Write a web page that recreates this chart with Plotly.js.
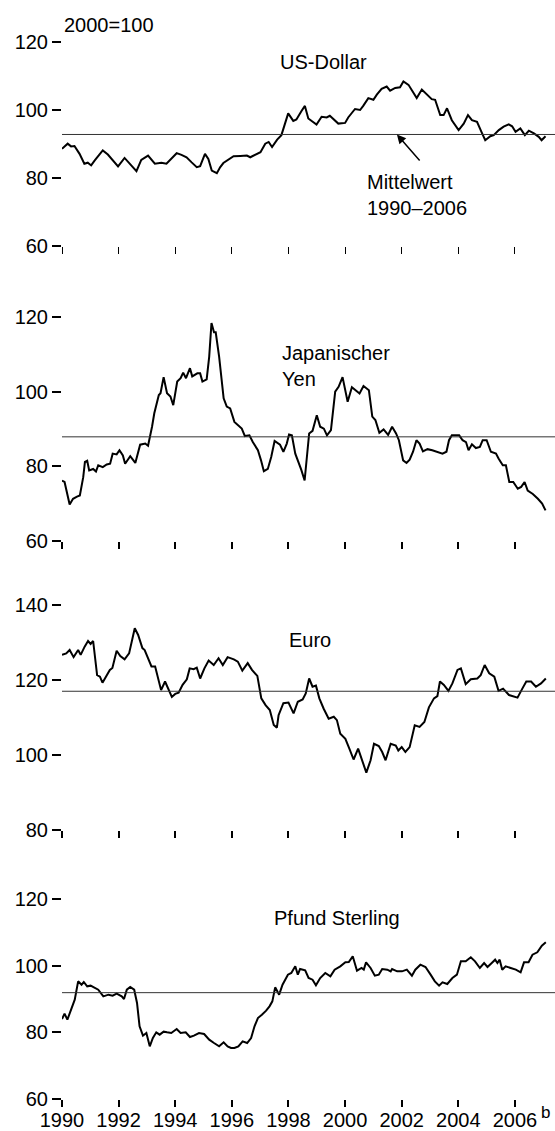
<!DOCTYPE html>
<html>
<head>
<meta charset="utf-8">
<script src="https://cdn.plot.ly/plotly-3.0.1.min.js"></script>
<style>html,body{margin:0;padding:0;background:#fff;}#chart{width:555px;height:1131px;}</style>
</head>
<body>
<div id="chart"></div>
<script>
// ---- Data (index 2000=100) ----
const seriesNames = ["US-Dollar", "Japanischer<br>Yen", "Euro", "Pfund Sterling"];
const meanValues = [92.8, 87.9, 117.0, 91.9]; // Mittelwert 1990–2006

const usdYear = [1990.00,1990.20,1990.32,1990.44,1990.62,1990.79,1990.91,1991.03,1991.15,1991.27,1991.44,1991.62,1991.80,1991.98,1992.21,1992.39,1992.63,1992.80,1993.04,1993.28,1993.51,1993.69,1993.87,1994.05,1994.22,1994.40,1994.58,1994.76,1994.88,1995.05,1995.17,1995.29,1995.47,1995.59,1995.70,1995.88,1996.06,1996.30,1996.53,1996.65,1996.83,1997.01,1997.18,1997.30,1997.42,1997.60,1997.75,1997.99,1998.17,1998.28,1998.46,1998.58,1998.70,1998.99,1999.17,1999.35,1999.46,1999.58,1999.76,2000.00,2000.11,2000.35,2000.53,2000.64,2000.82,2001.00,2001.12,2001.29,2001.47,2001.59,2001.77,2001.94,2002.06,2002.24,2002.36,2002.53,2002.71,2002.89,2003.06,2003.18,2003.36,2003.48,2003.60,2003.77,2004.01,2004.19,2004.34,2004.48,2004.66,2004.84,2004.95,2005.13,2005.25,2005.43,2005.60,2005.78,2005.90,2006.02,2006.19,2006.35,2006.49,2006.67,2006.84,2006.94,2007.08];
const usdVal = [88.6,90.1,89.3,89.4,87.1,84.2,84.5,83.7,85.1,86.3,88.1,86.9,85.1,83.4,85.9,84.2,82.0,85.3,86.6,84.2,84.5,84.2,85.7,87.3,86.8,86.1,84.6,83.2,83.5,87.1,85.6,82.2,81.4,83.2,84.4,85.4,86.4,86.5,86.6,86.1,86.9,87.6,90.1,90.6,89.1,91.3,92.6,99.0,96.8,97.2,99.7,101.2,97.5,95.7,98.0,97.8,98.3,97.3,96.0,96.2,97.8,100.3,100.0,101.2,103.5,103.0,104.5,106.2,106.9,105.7,106.5,106.7,108.4,107.4,105.9,103.5,106.0,104.5,103.2,103.0,98.5,98.5,100.5,97.0,94.1,96.0,98.5,97.0,96.5,93.1,91.1,92.3,92.6,94.1,95.1,95.8,95.2,93.6,94.6,92.6,93.9,93.1,92.1,91.1,92.3];

const yenYear = [1990.00,1990.09,1990.27,1990.39,1990.53,1990.63,1990.75,1990.81,1990.89,1990.96,1991.10,1991.20,1991.28,1991.44,1991.58,1991.70,1991.79,1991.93,1992.03,1992.15,1992.23,1992.41,1992.59,1992.76,1992.94,1993.04,1993.18,1993.26,1993.42,1993.48,1993.59,1993.71,1993.83,1993.93,1994.07,1994.19,1994.28,1994.38,1994.52,1994.60,1994.78,1994.88,1994.96,1995.11,1995.20,1995.28,1995.37,1995.43,1995.55,1995.71,1995.82,1995.94,1996.09,1996.23,1996.35,1996.46,1996.62,1996.74,1996.92,1997.03,1997.13,1997.27,1997.39,1997.51,1997.65,1997.70,1997.82,1997.94,1998.02,1998.12,1998.24,1998.35,1998.45,1998.57,1998.65,1998.73,1998.85,1999.00,1999.12,1999.25,1999.36,1999.50,1999.65,1999.77,1999.91,2000.01,2000.09,2000.24,2000.35,2000.51,2000.65,2000.84,2000.96,2001.07,2001.21,2001.36,2001.52,2001.66,2001.80,2001.90,2002.05,2002.17,2002.28,2002.40,2002.52,2002.63,2002.75,2002.91,2003.08,2003.26,2003.44,2003.58,2003.67,2003.77,2004.03,2004.15,2004.27,2004.36,2004.48,2004.62,2004.76,2004.86,2005.00,2005.15,2005.33,2005.42,2005.57,2005.68,2005.80,2005.94,2006.10,2006.22,2006.34,2006.45,2006.63,2006.81,2006.96,2007.08];
const yenVal = [76.2,75.8,69.8,71.3,71.9,72.2,77.1,81.2,81.5,78.9,79.3,78.6,80.3,79.8,80.5,80.7,83.4,83.2,84.3,82.9,80.7,82.7,80.9,85.8,86.1,85.5,90.6,94.2,99.1,99.6,103.9,99.6,98.7,96.4,102.7,103.6,105.1,103.6,106.3,104.1,104.9,104.9,102.7,103.3,109.4,118.4,115.9,115.9,109.4,98.2,96.0,95.5,91.9,91.0,90.1,88.1,88.3,86.5,84.3,81.6,78.7,79.3,82.5,86.8,86.1,85.8,83.9,86.1,88.5,88.3,83.4,81.2,79.1,76.2,81.6,88.8,89.5,93.7,90.6,90.1,88.3,89.7,100.0,101.3,103.9,100.5,97.3,101.2,100.6,99.5,101.5,100.4,93.3,92.4,89.0,89.9,88.4,90.6,88.8,87.0,81.6,80.9,81.8,83.9,87.0,86.1,84.0,84.6,84.3,83.9,83.4,83.9,87.0,88.3,88.3,87.0,86.5,84.3,85.9,84.9,85.2,87.0,87.0,83.9,83.4,82.1,80.3,80.3,75.8,75.8,74.0,74.5,75.8,73.5,72.6,71.3,70.0,68.2];

const eurYear = [1990.00,1990.15,1990.27,1990.41,1990.57,1990.66,1990.80,1990.92,1991.01,1991.10,1991.24,1991.34,1991.43,1991.55,1991.69,1991.78,1991.93,1992.06,1992.21,1992.37,1992.49,1992.57,1992.69,1992.84,1992.92,1993.04,1993.16,1993.29,1993.40,1993.50,1993.64,1993.74,1993.88,1994.00,1994.12,1994.26,1994.41,1994.51,1994.65,1994.76,1994.88,1995.03,1995.18,1995.36,1995.53,1995.68,1995.85,1996.07,1996.21,1996.37,1996.56,1996.71,1996.90,1997.04,1997.19,1997.34,1997.48,1997.59,1997.65,1997.82,1998.00,1998.18,1998.33,1998.50,1998.61,1998.73,1998.85,1998.97,1999.09,1999.24,1999.42,1999.60,1999.71,1999.83,2000.01,2000.15,2000.30,2000.46,2000.60,2000.75,2000.90,2001.02,2001.19,2001.31,2001.43,2001.61,2001.79,2001.88,2002.00,2002.13,2002.28,2002.46,2002.63,2002.80,2002.96,2003.14,2003.26,2003.35,2003.49,2003.65,2003.79,2003.97,2004.09,2004.26,2004.44,2004.67,2004.79,2004.93,2005.09,2005.27,2005.42,2005.58,2005.79,2005.93,2006.09,2006.26,2006.40,2006.57,2006.74,2006.92,2007.09];
const eurVal = [126.7,127.1,128.0,126.1,128.0,126.7,128.9,130.4,129.6,130.4,121.3,120.9,119.3,120.9,122.7,123.2,127.8,126.4,125.5,127.1,131.6,133.8,132.0,128.5,128.0,125.8,123.6,123.6,120.0,117.3,119.6,117.8,115.5,116.3,116.6,118.7,120.2,123.1,122.9,123.3,120.4,123.1,125.2,124.0,125.8,124.0,126.1,125.5,124.9,122.5,124.5,122.7,121.1,115.1,113.3,112.0,108.0,107.3,110.6,113.8,114.0,111.1,114.2,114.8,116.4,120.4,118.2,118.5,115.1,112.4,109.7,110.2,109.3,105.7,104.3,101.7,98.8,101.7,98.6,95.3,98.6,103.0,102.4,100.8,98.6,103.0,102.5,101.2,102.1,100.8,102.1,107.9,107.5,108.8,112.7,115.1,115.7,119.6,118.7,117.1,119.1,122.7,123.1,118.9,120.2,120.4,121.3,124.0,121.8,120.9,117.1,117.7,116.0,115.7,115.3,117.7,119.6,119.6,118.2,119.1,120.4];

const gbpYear = [1990.00,1990.09,1990.19,1990.31,1990.45,1990.57,1990.69,1990.77,1990.89,1991.01,1991.16,1991.28,1991.46,1991.64,1991.79,1991.93,1992.11,1992.19,1992.29,1992.41,1992.55,1992.65,1992.74,1992.86,1992.98,1993.10,1993.21,1993.33,1993.45,1993.59,1993.71,1993.86,1994.05,1994.19,1994.37,1994.52,1994.66,1994.84,1995.02,1995.20,1995.37,1995.55,1995.71,1995.85,1995.97,1996.09,1996.23,1996.38,1996.54,1996.68,1996.80,1996.92,1997.06,1997.21,1997.33,1997.43,1997.53,1997.67,1997.79,1997.98,1998.10,1998.24,1998.33,1998.41,1998.59,1998.71,1998.85,1998.97,1999.12,1999.30,1999.48,1999.63,1999.83,2000.01,2000.13,2000.27,2000.42,2000.58,2000.66,2000.74,2000.90,2001.05,2001.19,2001.31,2001.49,2001.61,2001.66,2001.84,2002.01,2002.18,2002.36,2002.48,2002.66,2002.84,2003.02,2003.17,2003.32,2003.44,2003.61,2003.79,2003.95,2004.09,2004.26,2004.44,2004.59,2004.76,2004.91,2005.03,2005.18,2005.30,2005.38,2005.46,2005.55,2005.67,2005.85,2006.03,2006.20,2006.32,2006.48,2006.62,2006.79,2006.95,2007.09];
const gbpVal = [84.0,85.6,83.8,86.3,89.8,95.3,94.3,95.1,93.8,94.0,93.3,92.8,90.8,91.3,91.0,91.6,90.8,90.0,92.8,93.6,92.8,88.8,81.8,79.0,79.8,75.8,78.3,80.0,79.3,80.2,80.0,79.8,81.0,79.8,80.0,78.6,79.0,79.8,79.5,77.8,76.8,75.8,77.0,75.8,75.3,75.3,75.8,77.3,76.8,78.3,81.8,84.3,85.3,86.5,87.8,89.3,93.5,91.3,94.3,97.3,97.8,99.8,97.3,99.0,98.6,96.3,95.8,94.1,96.3,97.8,96.8,98.8,99.8,101.0,101.1,102.8,98.5,99.3,98.8,101.0,99.3,97.0,97.3,99.0,98.8,98.3,99.0,98.3,98.3,98.8,97.0,98.8,100.3,99.6,97.3,95.3,94.0,95.0,94.5,96.3,97.3,101.3,101.3,102.5,101.3,99.3,100.8,99.6,100.8,101.8,100.8,101.8,98.8,99.8,99.3,98.8,98.0,101.0,101.0,103.3,104.0,106.0,107.0];

const xTickVals = [1990,1992,1994,1996,1998,2000,2002,2004,2006];
const xTickText = ["1990","1992","1994","1996","1998","2000","2002","2004","2006"];
const yTickVals = [[60,80,100,120],[60,80,100,120],[80,100,120,140],[60,80,100,120]];
const yRanges = [[60,120],[60,120],[80,140],[60,120]];

// ---- Layout ----
const FONT = "'Liberation Sans', Arial, Helvetica, sans-serif";
const FS = 20;
const H = 1131, W = 555, L = 62;
// pixel rows of the top/bottom tick of each panel
const panelPx = [[42,246],[317,541],[605,830],[899,1099]];
const xs = [usdYear, yenYear, eurYear, gbpYear];
const ys = [usdVal, yenVal, eurVal, gbpVal];

const data = [];
const layout = {
  width: W, height: H,
  margin: {l: L, r: 0, t: 0, b: 0},
  paper_bgcolor: "#fff", plot_bgcolor: "#fff",
  showlegend: false,
  font: {family: FONT, size: FS, color: "#000"},
  shapes: [], annotations: []
};
const xEnd = 1990 + (W - L) / 28.31;

for (let i = 0; i < 4; i++) {
  const sx = i === 0 ? "" : String(i + 1);
  data.push({
    x: xs[i], y: ys[i], type: "scatter", mode: "lines",
    xaxis: "x" + sx, yaxis: "y" + sx,
    line: {color: "#000", width: 2}, hoverinfo: "skip"
  });
  const dom = [(H - panelPx[i][1]) / H, (H - panelPx[i][0]) / H];
  layout["xaxis" + sx] = {
    range: [1990, xEnd], domain: [0, 1], anchor: "y" + sx,
    showgrid: false, zeroline: false, showline: false,
    ticks: "outside", ticklen: 7, tickwidth: i === 0 ? 1 : 2, tickcolor: "#000",
    tickvals: xTickVals, ticktext: xTickText, ticklabelstandoff: -4,
    showticklabels: i === 3, tickfont: {family: FONT, size: FS, color: "#000"}
  };
  layout["yaxis" + sx] = {
    range: yRanges[i], domain: dom, anchor: "x" + sx,
    showgrid: false, zeroline: false, showline: false,
    ticks: "outside", ticklen: 9, tickwidth: 2, tickcolor: "#000",
    tickvals: yTickVals[i], tickfont: {family: FONT, size: FS, color: "#000"}
  };
  layout.shapes.push({
    type: "line", xref: "x" + sx + " domain", yref: "y" + sx,
    x0: 0, x1: 1, y0: meanValues[i], y1: meanValues[i],
    line: {color: "#333", width: 1}
  });
}

const tf = {family: FONT, size: FS, color: "#000"};
const ann = layout.annotations;
ann.push({xref: "paper", yref: "paper", x: 0, y: (H - 25) / H, xanchor: "left", yanchor: "middle",
  text: "2000=100", showarrow: false, font: tf});
ann.push({xref: "x", yref: "y", x: 1997.63, y: 114.1, xanchor: "left", yanchor: "middle",
  text: seriesNames[0], showarrow: false, font: tf});
ann.push({xref: "x", yref: "y", x: 2000.70, y: 75.0, xanchor: "left", yanchor: "middle", align: "left",
  text: "Mittelwert<br>1990–2006", showarrow: false, font: tf});
ann.push({xref: "x", yref: "y", x: 2001.83, y: meanValues[0], axref: "x", ayref: "y", ax: 2002.68, ay: 84.7,
  text: "", showarrow: true, arrowhead: 2, arrowsize: 1.2, arrowwidth: 1.5, arrowcolor: "#000"});
ann.push({xref: "x2", yref: "y2", x: 1997.70, y: 106.8, xanchor: "left", yanchor: "middle", align: "left",
  text: seriesNames[1], showarrow: false, font: tf});
ann.push({xref: "x3", yref: "y3", x: 1997.95, y: 130.7, xanchor: "left", yanchor: "middle",
  text: seriesNames[2], showarrow: false, font: tf});
ann.push({xref: "x4", yref: "y4", x: 1997.42, y: 114.4, xanchor: "left", yanchor: "middle",
  text: seriesNames[3], showarrow: false, font: tf});
ann.push({xref: "paper", yref: "paper", x: (539 - L) / (W - L), y: (H - 1112) / H, xanchor: "left", yanchor: "middle",
  text: "b", showarrow: false, font: {family: FONT, size: 17, color: "#000"}});

Plotly.newPlot("chart", data, layout, {staticPlot: true, displayModeBar: false});
</script>
</body>
</html>
